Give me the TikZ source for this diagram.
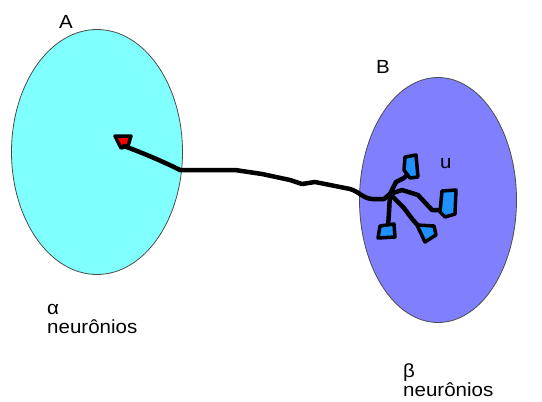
\documentclass[tikz,border=0pt]{standalone}
\usepackage{fontspec}
\usetikzlibrary{shapes.geometric}
\setmainfont{Liberation Sans}
\newfontfamily\labelfont[FakeStretch=1.08]{Liberation Sans}
\definecolor{popA}{RGB}{128,255,255}
\definecolor{popB}{RGB}{128,128,255}
\definecolor{somablue}{RGB}{30,144,255}
\begin{document}
\begin{tikzpicture}[x=1pt,y=-1pt,
  region/.style={draw=black!70,line width=0.8pt,ellipse,inner sep=0pt},
  axon/.style={draw=black,line width=4.5pt,line cap=round,line join=round},
  soma/.style={draw=black,line width=3.5pt,line join=round,fill=#1},
  lbl/.style={font=\labelfont\fontsize{19}{19}\selectfont,inner sep=0pt,anchor=base west,align=left}]
\useasboundingbox (0,0) rectangle (542,402);
% the two neuron populations
\node[region,fill=popA,minimum width=171,minimum height=245] (A) at (97,152) {};
\node[region,fill=popB,minimum width=157,minimum height=245] (B) at (438,200) {};
\node[lbl] (la) at (59,28) {A};
\node[lbl] (lb) at (376,73) {B};
\node[lbl] (lu) at (440,168) {u};
% two-line labels, anchored at the baseline of their last line
\node[lbl] (alpha) at (47,333) {α\\neurônios};
\node[lbl] (beta) at (403,396) {β\\neurônios};
% source neuron in A
\coordinate (src) at (124,146);
\path[soma=red] (115,136) -- (131,136) -- (128,146) -- (121,148) -- cycle;
% dendritic endings in B
\coordinate (hub) at (390,194);
\coordinate (t1) at (410,172);
\coordinate (t2) at (444,210);
\coordinate (t3) at (422,230);
\coordinate (t4) at (388,228);
% long axon from A to B
\draw[axon] (src) .. controls (140,152) and (160,160) .. (180,170)
  -- (235,170) -- (262,174) -- (290,180) -- (302,184) -- (315,182)
  -- (335,186) -- (350,189) .. controls (360,192) and (362,198) .. (372,199)
  -- (384,199) -- (hub);
% branches
\draw[axon] (hub) -- (396,182) -- (404,178) -- (t1);
\draw[axon] (hub) -- (402,190) -- (418,195) -- (432,210) -- (t2);
\draw[axon] (hub) -- (404,208) -- (413,220) -- (t3);
\draw[axon] (hub) -- (389,212) -- (t4);
% terminal somata
\path[soma=somablue] (405,157) -- (416,155) -- (418,177) -- (410,178) -- (404,170) -- cycle;
\path[soma=somablue] (442,191) -- (456,190) -- (455,214) -- (445,217) -- (440,212) -- cycle;
\path[soma=somablue] (417,225) -- (434,226) -- (436,235) -- (425,242) -- cycle;
\path[soma=somablue] (380,226) -- (394,224) -- (395,237) -- (378,238) -- cycle;
\end{tikzpicture}
\end{document}
